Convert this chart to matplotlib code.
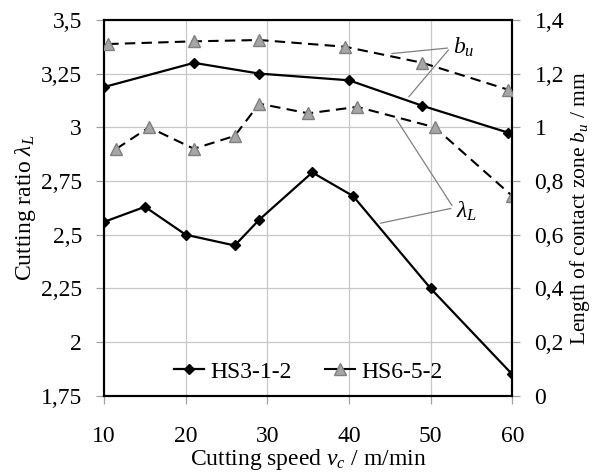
import matplotlib
matplotlib.use("Agg")
import matplotlib.pyplot as plt
from matplotlib.ticker import FuncFormatter

plt.rcParams["font.family"] = "serif"
plt.rcParams["font.serif"] = ["Liberation Serif", "DejaVu Serif"]
plt.rcParams["mathtext.fontset"] = "custom"
plt.rcParams["mathtext.rm"] = "Liberation Serif"
plt.rcParams["mathtext.it"] = "Liberation Serif:italic"

# cutting ratio lambda_L (left axis)
lam_hs3_x = [10, 15, 20, 26, 29, 35.5, 40.5, 50, 60]
lam_hs3_y = [2.56, 2.63, 2.50, 2.45, 2.57, 2.79, 2.68, 2.25, 1.85]
lam_hs6_x = [11.5, 15.5, 21, 26, 29, 35, 41, 50.5, 60]
lam_hs6_y = [2.90, 3.00, 2.90, 2.96, 3.11, 3.065, 3.095, 3.00, 2.68]

# contact zone length b_u in mm (right axis)
bu_hs3_x = [10, 21, 29, 40, 49, 59.5]
bu_hs3_y = [1.15, 1.24, 1.20, 1.175, 1.08, 0.98]
bu_hs6_x = [10.5, 21, 29, 39.5, 49, 59.5]
bu_hs6_y = [1.31, 1.32, 1.325, 1.30, 1.24, 1.14]

left_ticks = [1.75, 2, 2.25, 2.5, 2.75, 3, 3.25, 3.5]
right_ticks = [0, 0.2, 0.4, 0.6, 0.8, 1, 1.2, 1.4]
x_ticks = [10, 20, 30, 40, 50, 60]

FS = 17
tri_face = "#a6a6a6"
tri_edge = "#808080"


def comma(v, pos):
    return f"{v:g}".replace(".", ",")


fig = plt.figure(figsize=(5.95, 4.73), dpi=100)
ax = fig.add_axes([0.175, 0.163, 0.686, 0.795])
ax2 = ax.twinx()

ax.plot(lam_hs3_x, lam_hs3_y, color="black", lw=1.6, marker="D", ms=5.5,
        zorder=3)
ax.plot(lam_hs6_x, lam_hs6_y, color="black", lw=1.5, ls=(0, (5, 3)),
        marker="^", ms=8, mfc=tri_face, mec=tri_edge, zorder=3)
ax2.plot(bu_hs3_x, bu_hs3_y, color="black", lw=1.6, marker="D", ms=5.5, zorder=3)
ax2.plot(bu_hs6_x, bu_hs6_y, color="black", lw=1.5, ls=(0, (5, 3)),
         marker="^", ms=8, mfc=tri_face, mec=tri_edge, zorder=3)

ax.set_xlim(10, 60)
ax.set_ylim(1.75, 3.5)
ax2.set_ylim(0, 1.4)
ax.set_xticks(x_ticks)
ax.set_yticks(left_ticks)
ax2.set_yticks(right_ticks)
ax.yaxis.set_major_formatter(FuncFormatter(comma))
ax2.yaxis.set_major_formatter(FuncFormatter(comma))

ax.grid(True, color="#c8c8c8", lw=0.9)
ax.set_axisbelow(True)
for a in (ax, ax2):
    a.tick_params(labelsize=FS, direction="out", length=6, width=0.9,
                  color="#a0a0a0", pad=10)
    for s in a.spines.values():
        s.set_color("black")
        s.set_linewidth(1.5)
ax.tick_params(axis="x", pad=16)

ax.set_xlabel(r"Cutting speed $v_c$ / m/min", fontsize=FS, labelpad=0)
ax.set_ylabel(r"Cutting ratio $\lambda_L$", fontsize=FS, labelpad=2)
ax2.set_ylabel(r"Length of contact zone $b_u$ / mm", fontsize=15.5, labelpad=3)

# leader lines for the labels
line_kw = dict(arrowstyle="-", color="#808080", lw=0.9)
ax.annotate("", xy=(44.9, 3.342), xytext=(52.4, 3.37), arrowprops=line_kw)
ax.annotate("", xy=(47.1, 3.132), xytext=(52.4, 3.37), arrowprops=line_kw)
ax.text(52.7, 3.37, r"$b_u$", fontsize=FS, va="center", ha="left")
ax.annotate("", xy=(45.6, 3.049), xytext=(52.8, 2.625), arrowprops=line_kw)
ax.annotate("", xy=(43.5, 2.551), xytext=(52.8, 2.625), arrowprops=line_kw)
ax.text(53.1, 2.61, r"$\lambda_L$", fontsize=FS, va="center", ha="left")

h1, = ax.plot([], [], color="black", lw=1.6, marker="D", ms=5.5)
h2, = ax.plot([], [], color="black", lw=1.5, marker="^", ms=8,
              mfc=tri_face, mec=tri_edge)
ax.legend([h1, h2], ["HS3-1-2", "HS6-5-2"], loc="center", ncol=2,
          frameon=False, fontsize=FS, handlelength=1.3, handletextpad=0.25,
          columnspacing=1.4, bbox_to_anchor=(0.5, 0.064),
          borderaxespad=0, borderpad=0)

fig.savefig("out.png", dpi=100)
